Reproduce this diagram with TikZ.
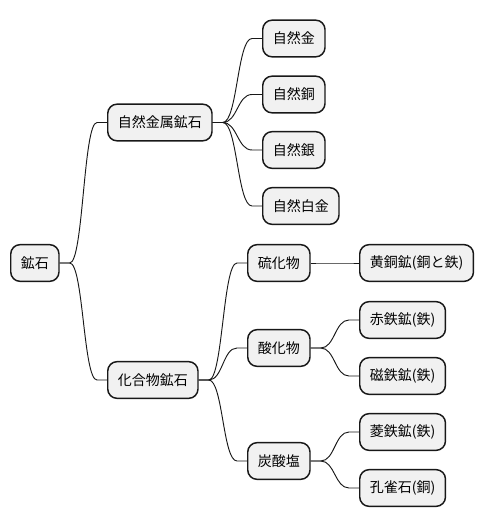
\documentclass[tikz,border=0pt]{standalone}
\usepackage{fontspec}
\newfontfamily\jpfont{Noto Sans CJK JP}
\usetikzlibrary{calc}
\definecolor{BoxFill}{HTML}{F1F1F1}
\definecolor{BoxLine}{HTML}{181818}

\begin{document}
\begin{tikzpicture}[
  x=0.75pt, y=-0.75pt,
  topic/.style={draw=BoxLine, fill=BoxFill, line width=1.1pt, rounded corners=7pt, minimum height=27.5pt, inner xsep=7.6pt, inner ysep=0pt, anchor=west, font=\jpfont\fontsize{10.5}{12}\selectfont},
  wl/.style={line width=0.7pt, draw=BoxLine},
]
\useasboundingbox (0,0) rectangle (485,527);
% root and first level
\node[topic] (ore) at (10,263) {鉱石};
\node[topic] (metal) at (107,122.5) {自然金属鉱石};
\node[topic] (comp) at (107,380) {化合物鉱石};
% native metals
\node[topic] (gold) at (262,38.5) {自然金};
\node[topic] (copper) at (262,94.5) {自然銅};
\node[topic] (silver) at (262,150) {自然銀};
\node[topic] (platinum) at (262,206) {自然白金};
% compounds
\node[topic] (sulfide) at (247,263) {硫化物};
\node[topic] (oxide) at (247,348) {酸化物};
\node[topic] (carbonate) at (247,461) {炭酸塩};
\node[topic] (chalco) at (359,263) {黄銅鉱(銅と鉄)};
\node[topic] (hematite) at (359,320) {赤鉄鉱(鉄)};
\node[topic] (magnetite) at (359,376) {磁鉄鉱(鉄)};
\node[topic] (siderite) at (359,432) {菱鉄鉱(鉄)};
\node[topic] (malachite) at (359,488) {孔雀石(銅)};
% branches
\foreach \a/\b in {ore/metal, ore/comp, metal/gold, metal/copper, metal/silver, metal/platinum,
  comp/sulfide, comp/oxide, comp/carbonate, sulfide/chalco, oxide/hematite, oxide/magnetite,
  carbonate/siderite, carbonate/malachite}{
  \draw[wl] let \p1=(\a.east), \p2=(\b.west), \n1={(\x1+\x2)/2} in
    (\a.east) -- ++(10,0) .. controls (\n1,\y1) and (\n1,\y2) .. ($(\b.west)+(-10,0)$) -- (\b.west);
}
\end{tikzpicture}
\end{document}
